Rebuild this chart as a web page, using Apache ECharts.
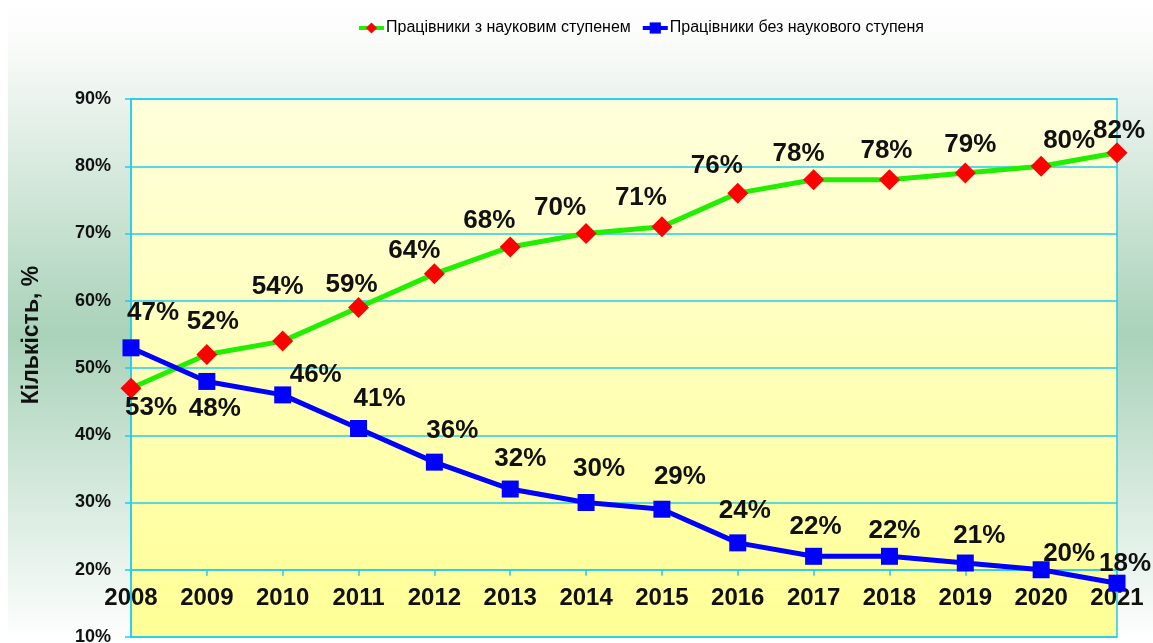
<!DOCTYPE html>
<html>
<head>
<meta charset="utf-8">
<script src="https://cdn.jsdelivr.net/npm/echarts@6/dist/echarts.min.js"></script>
<style>
html,body{margin:0;padding:0;background:#ffffff;}
#chart{width:1153px;height:643px;}
</style>
</head>
<body>
<div id="chart"></div>
<script>
const years = ['2008','2009','2010','2011','2012','2013','2014','2015','2016','2017','2018','2019','2020','2021'];
const withDegree = [47, 52, 54, 59, 64, 68, 70, 71, 76, 78, 78, 79, 80, 82];
const withoutDegree = [53, 48, 46, 41, 36, 32, 30, 29, 24, 22, 22, 21, 20, 18];
const seriesNames = ['Працівники з науковим ступенем', 'Працівники без наукового ступеня'];
const yAxisTitle = 'Кількість, %';

// label placement (offsets from each point, px)
const greenLabelOffsets = [[22,-75],[6,-33],[-5,-54],[-7,-23],[-20,-23],[-21,-26],[-26,-26],[-21,-29],[-21,-27],[-15,-26],[-3,-29],[5,-28],[28,-25],[2,-22]];
const blueLabelOffsets = [[20,60],[8,27],[33,-20],[21,-30],[18,-31],[10,-30],[13,-34],[18,-32],[7,-32],[2,-29],[5,-25],[14,-27],[28,-16],[8,-19]];

const FONT = '"Liberation Sans", Arial, sans-serif';
const gridColor = '#22ccee';

function withLabels(values, offsets) {
  return values.map((v, i) => ({ value: v, label: { offset: offsets[i] } }));
}

const chart = echarts.init(document.getElementById('chart'), null, { renderer: 'canvas' });
chart.setOption({
  animation: false,
  backgroundColor: {
    type: 'linear', x: 0, y: 0, x2: 0, y2: 1,
    colorStops: [
      { offset: 0, color: '#ffffff' },
      { offset: 0.08, color: '#f8faf8' },
      { offset: 0.52, color: '#a9d2b9' },
      { offset: 1, color: '#ffffff' }
    ]
  },
  graphic: [
    { type: 'rect', left: 0, top: 0, shape: { width: 8, height: 643 }, style: { fill: '#ffffff' }, z: -10 },
    {
      type: 'text', x: 32, y: 335, rotation: Math.PI / 2,
      style: { text: yAxisTitle, font: 'bold 23px ' + FONT, fill: '#111111', align: 'center', verticalAlign: 'middle' }
    }
  ],
  legend: {
    top: 15,
    left: 352,
    itemWidth: 25,
    itemHeight: 14,
    itemGap: 10,
    lineStyle: { width: 4 },
    textStyle: { fontFamily: FONT, fontSize: 16, color: '#000000', padding: [0, 0, 0, -3] },
    data: seriesNames
  },
  grid: {
    left: 131, right: 36, top: 99, bottom: 6,
    outerBoundsMode: 'none',
    containLabel: false,
    show: true,
    borderColor: gridColor,
    borderWidth: 1.5,
    backgroundColor: {
      type: 'linear', x: 0, y: 0, x2: 0, y2: 1,
      colorStops: [
        { offset: 0, color: '#ffffdc' },
        { offset: 1, color: '#ffff96' }
      ]
    }
  },
  xAxis: {
    type: 'category',
    data: years,
    boundaryGap: false,
    offset: -67.25,
    axisLine: { show: true, lineStyle: { color: gridColor, width: 1.5 } },
    axisTick: { show: true, length: 6, lineStyle: { color: gridColor, width: 1.5 } },
    axisLabel: { margin: 17, fontFamily: FONT, fontWeight: 'bold', fontSize: 24, color: '#111111' },
    splitLine: { show: false }
  },
  yAxis: {
    type: 'value',
    min: 10, max: 90, interval: 10,
    axisLine: { show: true, lineStyle: { color: gridColor, width: 1.5 } },
    axisTick: { show: true, length: 6, lineStyle: { color: gridColor, width: 1.5 } },
    axisLabel: { margin: 20, formatter: '{value}%', fontFamily: FONT, fontWeight: 'bold', fontSize: 18, color: '#111111' },
    splitLine: { show: true, lineStyle: { color: gridColor, width: 1.5 } }
  },
  series: [
    {
      name: seriesNames[0],
      type: 'line',
      data: withLabels(withDegree, greenLabelOffsets),
      symbol: 'diamond',
      symbolSize: 21,
      itemStyle: { color: '#ff0000' },
      lineStyle: { color: '#22ee00', width: 5 },
      label: {
        show: true, position: 'inside', formatter: '{c}%',
        fontFamily: FONT, fontWeight: 'bold', fontSize: 26, color: '#111111'
      },
      z: 3
    },
    {
      name: seriesNames[1],
      type: 'line',
      data: withLabels(withoutDegree, blueLabelOffsets),
      symbol: 'rect',
      symbolSize: 17,
      itemStyle: { color: '#0000ff' },
      lineStyle: { color: '#0000ff', width: 5 },
      label: {
        show: true, position: 'inside', formatter: '{c}%',
        fontFamily: FONT, fontWeight: 'bold', fontSize: 26, color: '#111111'
      },
      z: 4
    }
  ]
});
</script>
</body>
</html>
